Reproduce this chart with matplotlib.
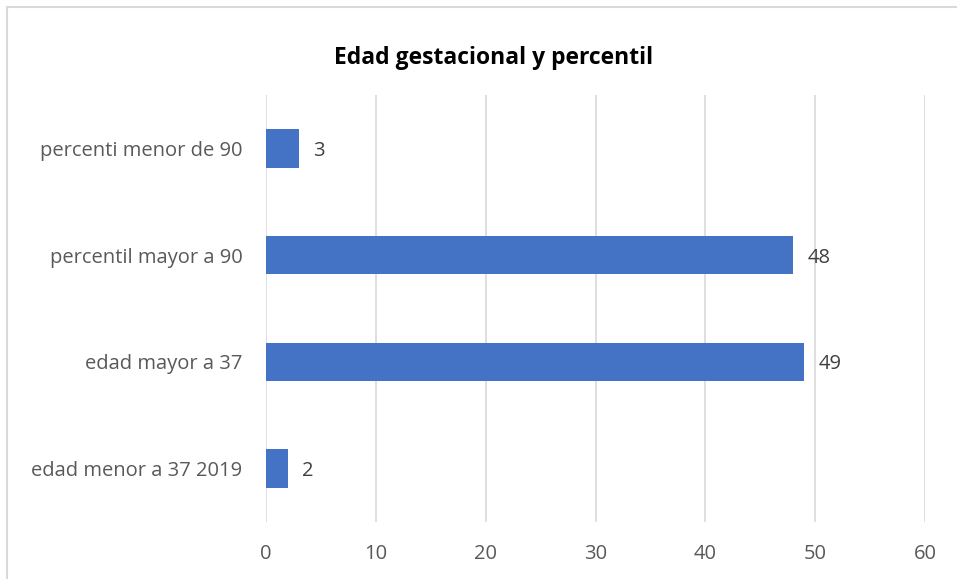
import matplotlib.pyplot as plt
from matplotlib.patches import Rectangle

categories = ["edad menor a 37 2019", "edad mayor a 37",
              "percentil mayor a 90", "percenti menor de 90"]
values = [2, 49, 48, 3]
x_ticks = [0, 10, 20, 30, 40, 50, 60]

plt.rcParams['font.family'] = ['Open Sans', 'DejaVu Sans']

fig = plt.figure(figsize=(9.57, 5.79), dpi=100)
ax = fig.add_axes([266 / 957, 1 - 522 / 579, 659 / 957, 427 / 579])

pos = range(len(categories))
ax.barh(pos, values, height=0.36, color="#4472c4", zorder=3)
for p, v in zip(pos, values):
    ax.text(v + 1.3, p, str(v), va="center_baseline", ha="left",
            fontsize=14.5, color="#404040")

ax.set_xlim(0, 60)
ax.set_ylim(-0.5, 3.5)
ax.set_xticks(x_ticks)
ax.set_yticks(list(pos))
ax.set_yticklabels(categories, fontsize=15)
ax.tick_params(axis="both", length=0, labelsize=14.5, labelcolor="#595959")
ax.tick_params(axis="y", pad=17)
ax.tick_params(axis="x", pad=16)
ax.grid(axis="x", color="#d9d9d9", linewidth=1.2, zorder=0)
for s in ax.spines.values():
    s.set_visible(False)

fig.text(494 / 957, 1 - 58 / 579, "Edad gestacional y percentil",
         ha="center", va="center", fontsize=16.5, fontweight="bold",
         color="black")

fig.patches.append(Rectangle((7 / 957, -0.1), 1.2, 1 - 7 / 579 + 0.1,
                             transform=fig.transFigure, fill=False,
                             edgecolor="#d9d9d9", linewidth=1.5))

fig.savefig("out.png", dpi=100)
